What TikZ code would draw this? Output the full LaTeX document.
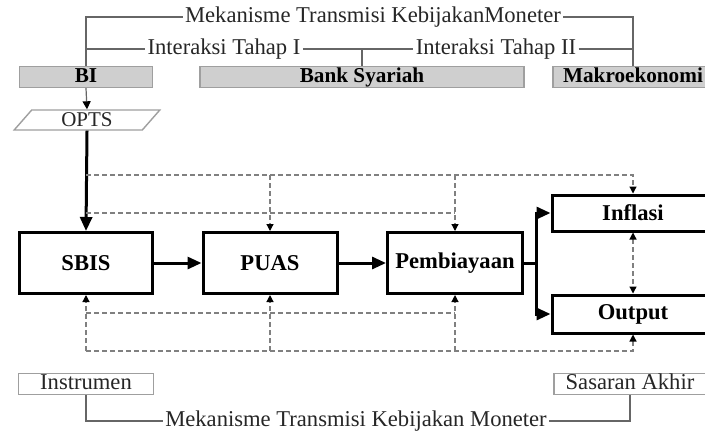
\documentclass[tikz,border=0pt]{standalone}
\usepackage{fontspec}
\setmainfont{Liberation Serif}
\usetikzlibrary{arrows.meta, shapes.geometric}

\begin{document}
\begin{tikzpicture}[x=0.5pt, y=-0.5pt,
    lbl/.style={font=\fontsize{11.3}{13}\selectfont, text=black!85, inner sep=1pt},
    grp/.style={draw=gray!75, fill=gray!38, line width=0.7pt, minimum height=10.5pt, text height=7.9pt, text depth=2.6pt, inner sep=0pt, font=\fontsize{10.6}{12}\selectfont\bfseries},
    blk/.style={draw, line width=1.5pt, minimum height=30.5pt, inner sep=0pt, font=\fontsize{11.3}{13}\selectfont\bfseries},
    tag/.style={draw=gray!75, line width=0.7pt, minimum height=10.5pt, text height=7.8pt, text depth=2.2pt, inner sep=0pt, font=\fontsize{11.3}{13}\selectfont, text=black!85},
    link/.style={gray!80!black, line width=0.6pt},
    fback/.style={gray, line width=0.6pt, dash pattern=on 2.5pt off 1.5pt},
    tip/.style={-{Triangle[length=3.5pt, width=3.5pt, black]}},
    bigtip/.style={line width=1.5pt, -{Triangle[length=7pt, width=6pt]}}]
    \path[use as bounding box, fill=white] (0,0) rectangle (705,435);
    \clip (0,0) rectangle (705,435);

    % Top groups
    \node[grp, minimum width=66.5pt] (bi) at (86,77) {BI};
    \node[grp, minimum width=162pt] (bank) at (362,77) {Bank Syariah};
    \node[grp, minimum width=80pt] (makro) at (633,77) {Makroekonomi};

    % Brackets over the groups
    \node[lbl] (mek) at (373,17) {Mekanisme Transmisi KebijakanMoneter};
    \node[lbl] (int1) at (224,49) {Interaksi Tahap I};
    \node[lbl] (int2) at (496,49) {Interaksi Tahap II};
    \draw[link] (bi.north) |- (mek.west);
    \draw[link] (mek.east) -| (makro.north);
    \draw[link] (bi.north) |- (int1.west);
    \draw[link] (int1.east) -- (int2.west);
    \draw[link] (int2.east) -| (makro.north);
    \draw[link] (bank.north) -- (bank.north |- int1.east);

    % Main chain
    \node[trapezium, trapezium left angle=60, trapezium right angle=120, trapezium stretches=true,
          draw=gray!75, line width=0.7pt, minimum width=73pt, minimum height=10pt, inner sep=0pt,
          font=\fontsize{10.5}{12}\selectfont, text=black!85] (opts) at (87,120) {OPTS};
    \node[blk, minimum width=66.5pt] (sbis) at (86,263) {SBIS};
    \node[blk, minimum width=67pt] (puas) at (270,263) {PUAS};
    \node[blk, minimum width=67.5pt] (pemb) at (455,263) {Pembiayaan};
    \node[blk, minimum width=81pt, minimum height=18pt] (infl) at (633,213) {Inflasi};
    \node[blk, minimum width=81pt, minimum height=19pt] (outp) at (633,314) {Output};

    \draw[link, -{Triangle[length=4pt, width=4pt, black]}] (bi.south) -- (opts.north);
    \draw[bigtip] (opts.south) -- (sbis.north);
    \draw[bigtip] (sbis.east) -- (puas.west);
    \draw[bigtip] (puas.east) -- (pemb.west);
    \coordinate (split) at (536,263);
    \draw[line width=1.5pt] (pemb.east) -- (split);
    \draw[bigtip] (split) |- (infl.west);
    \draw[bigtip] (split) |- (outp.west);
    \draw[fback, {Triangle[length=3.5pt, width=3.5pt, black]}-{Triangle[length=3.5pt, width=3.5pt, black]}] (infl.south) -- (outp.north);

    % Dashed feedback lines
    \coordinate (ta) at (86,175);
    \coordinate (tb) at (86,213);
    \coordinate (ba) at (86,313);
    \coordinate (bb) at (86,351);
    \draw[fback, tip] (ta) -| (infl.north);
    \draw[fback, tip] (puas.north |- ta) -- (puas.north);
    \draw[fback, tip] (pemb.north |- ta) -- (pemb.north);
    \draw[fback] (tb) -- (pemb.north |- tb);
    \draw[fback] (ba) -- (pemb.south |- ba);
    \draw[fback, tip] (bb) -- (sbis.south);
    \draw[fback, tip] (bb) -| (outp.south);
    \draw[fback, tip] (puas.south |- bb) -- (puas.south);
    \draw[fback, tip] (pemb.south |- bb) -- (pemb.south);

    % Bottom bracket
    \node[tag, minimum width=67.5pt] (instr) at (86,384) {Instrumen};
    \node[tag, minimum width=76pt] (sasar) at (630,384) {Sasaran Akhir};
    \node[lbl] (mek2) at (356,421) {Mekanisme Transmisi Kebijakan Moneter};
    \draw[link] (instr.south) |- (mek2.west);
    \draw[link] (mek2.east) -| (sasar.south);
\end{tikzpicture}
\end{document}
